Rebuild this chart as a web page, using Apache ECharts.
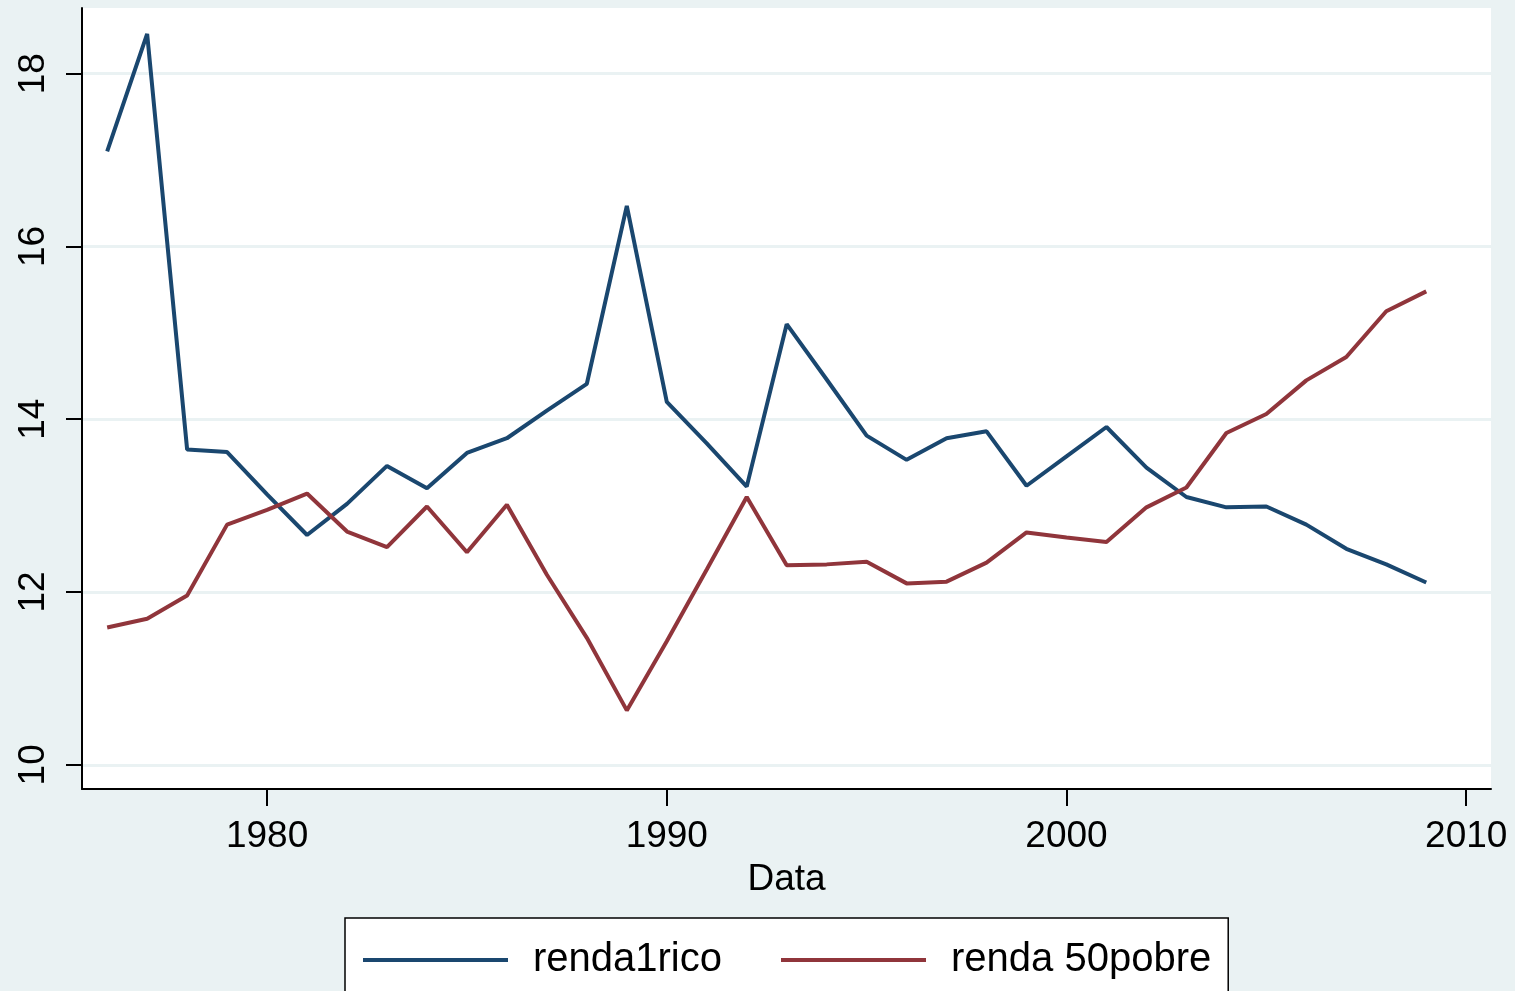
<!DOCTYPE html>
<html>
<head>
<meta charset="utf-8">
<script src="https://cdn.jsdelivr.net/npm/echarts@6/dist/echarts.min.js"></script>
<style>
  html, body { margin: 0; padding: 0; background: #eaf2f3; }
  #chart { width: 1515px; height: 991px; }
</style>
</head>
<body>
<div id="chart"></div>
<script>
const years = [1976, 1977, 1978, 1979, 1980, 1981, 1982, 1983, 1984, 1985, 1986, 1987,
  1988, 1989, 1990, 1991, 1992, 1993, 1994, 1995, 1996, 1997, 1998, 1999, 2000, 2001,
  2002, 2003, 2004, 2005, 2006, 2007, 2008, 2009]
const renda1rico = [17.10, 18.46, 13.65, 13.62, 13.13, 12.66, 13.02, 13.46, 13.20, 13.61, 13.78, 14.10,
  14.41, 16.47, 14.20, 13.72, 13.22, 15.10, 14.46, 13.81, 13.53, 13.78, 13.86, 13.23, 13.57, 13.91,
  13.44, 13.10, 12.98, 12.99, 12.78, 12.50, 12.32, 12.11]
const renda50pobre = [11.59, 11.69, 11.96, 12.78, 12.95, 13.14, 12.70, 12.52, 12.99, 12.46, 13.01, 12.20,
  11.47, 10.63, 11.43, 12.26, 13.10, 12.31, 12.32, 12.35, 12.10, 12.12, 12.34, 12.69, 12.63, 12.58,
  12.98, 13.21, 13.84, 14.06, 14.45, 14.72, 15.25, 15.48]
const xTicks = [1980, 1990, 2000, 2010]
const yTicks = [10, 12, 14, 16, 18]

const chart = echarts.init(document.getElementById('chart'))
const pair = arr => years.map((y, i) => [y, arr[i]])
const font = 'Liberation Sans, Arial, sans-serif'

chart.setOption({
  backgroundColor: '#eaf2f3',
  animation: false,
  grid: {
    left: 82,
    right: 24,
    top: 8,
    bottom: 202,
    show: true,
    backgroundColor: '#ffffff',
    borderWidth: 0
  },
  xAxis: {
    type: 'value',
    min: 1975.37,
    max: 2010.62,
    name: 'Data',
    nameLocation: 'middle',
    nameGap: 72,
    nameTextStyle: { color: '#000', fontSize: 37, fontFamily: font },
    axisLine: { lineStyle: { color: '#000', width: 2 } },
    axisTick: { length: 17, customValues: xTicks, lineStyle: { color: '#000', width: 2 } },
    axisLabel: {
      customValues: xTicks, color: '#000', fontSize: 37, fontFamily: font, margin: 29,
      formatter: v => String(v)
    },
    splitLine: { show: false }
  },
  yAxis: {
    type: 'value',
    min: 9.72,
    max: 18.76,
    axisLine: { show: true, lineStyle: { color: '#000', width: 2 } },
    axisTick: { show: true, length: 16, customValues: yTicks, lineStyle: { color: '#000', width: 2 } },
    axisLabel: { customValues: yTicks, rotate: 90, color: '#000', fontSize: 37, fontFamily: font, margin: 30 },
    splitLine: { show: true, lineStyle: { color: '#eaf2f3', width: 3 } }
  },
  legend: {
    left: 345,
    top: 918,
    orient: 'horizontal',
    backgroundColor: '#ffffff',
    borderColor: '#000',
    borderWidth: 1.5,
    padding: [22, 17, 40, 18],
    itemGap: 59,
    itemWidth: 145,
    itemHeight: 4,
    icon: 'rect',
    textStyle: { color: '#000', fontSize: 40, fontFamily: font, padding: [0, 0, 0, 20] },
    data: ['renda1rico', 'renda 50pobre']
  },
  series: [
    {
      name: 'renda1rico',
      type: 'line',
      data: pair(renda1rico),
      symbol: 'none',
      lineStyle: { color: '#1a476f', width: 4 },
      itemStyle: { color: '#1a476f' }
    },
    {
      name: 'renda 50pobre',
      type: 'line',
      data: pair(renda50pobre),
      symbol: 'none',
      lineStyle: { color: '#90353b', width: 4 },
      itemStyle: { color: '#90353b' }
    }
  ]
})
</script>
</body>
</html>
